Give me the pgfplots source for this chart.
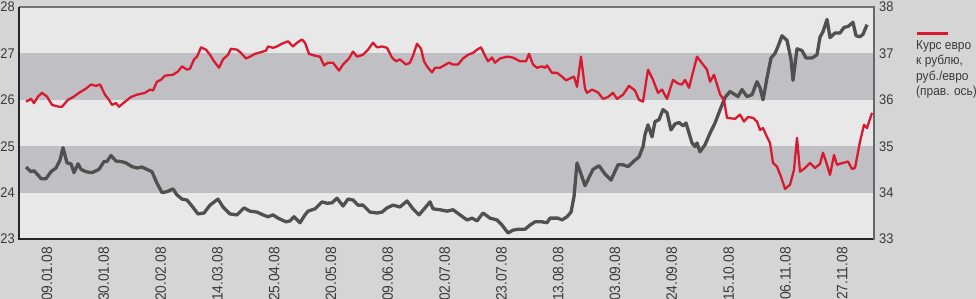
\documentclass[border=0pt]{standalone}
\usepackage{pgfplots}
\pgfplotsset{compat=1.18}
\usepackage{fontspec}
\setmainfont{Liberation Sans}[FakeStretch=0.92]
\definecolor{bgout}{HTML}{D5D5D5}
\definecolor{bandlight}{HTML}{E8E8E8}
\definecolor{banddark}{HTML}{C0C0C4}
\definecolor{usdline}{HTML}{505050}
\definecolor{eurline}{HTML}{D8192F}
\definecolor{txt}{HTML}{3A3A3A}
\pgfplotsset{every tick label/.append style={font=\fontsize{14}{14}\selectfont, text=txt}}
\begin{document}
\begin{tikzpicture}[x=1pt,y=1pt]
\clip (0,0) rectangle (976,299);
\fill[bgout] (0,0) rectangle (976,299);
\begin{axis}[at={(19pt,60pt)}, anchor=south west, scale only axis,
  width=855pt, height=232pt, xmin=19, xmax=874, ymin=23, ymax=28,
  ytick={23,24,25,26,27,28},
  xtick={47,103.8,160.6,217.4,274.2,331,387.8,444.6,501.4,558.2,615,671.8,728.6,785.4,842.2},
  xticklabels={09.01.08,30.01.08,20.02.08,14.03.08,25.04.08,20.05.08,09.06.08,02.07.08,23.07.08,13.08.08,03.09.08,24.09.08,15.10.08,06.11.08,27.11.08},
  xticklabel style={rotate=90, anchor=east, inner sep=0pt, font=\fontsize{15}{15}\selectfont},
  xticklabel shift=8pt,
  yticklabel style={anchor=east, inner sep=0pt},
  yticklabel shift=4pt,
  /pgf/number format/assume math mode=true,
  major tick length=0pt, axis line style={draw=none},
  axis background/.style={fill=bandlight},
  clip=false]
\fill[banddark] (axis cs:19,24) rectangle (axis cs:874,25);
\fill[banddark] (axis cs:19,26) rectangle (axis cs:874,27);
\addplot[usdline, line width=3.3pt, line join=round] coordinates {
(26,24.55)(31,24.45)(34,24.47)(38,24.38)(41,24.3)(46,24.3)(51,24.45)(56,24.53)(60,24.7)(63,24.97)(67,24.64)(71,24.62)(74,24.43)(78,24.62)(81,24.5)(86,24.45)(92,24.43)(99,24.5)(104,24.67)(107,24.67)(111,24.8)(116,24.68)(121,24.67)(126,24.64)(132,24.56)(137,24.53)(142,24.55)(147,24.5)(152,24.45)(157,24.2)(162,24.0)(167,24.02)(173,24.08)(177,23.95)(182,23.86)(187,23.84)(192,23.71)(198,23.54)(204,23.56)(210,23.73)(218,23.86)(223,23.69)(230,23.54)(237,23.52)(244,23.67)(250,23.6)(257,23.58)(263,23.52)(268,23.48)(273,23.52)(278,23.45)(286,23.37)(290,23.39)(294,23.48)(300,23.35)(305,23.52)(308,23.6)(315,23.65)(322,23.8)(327,23.77)(332,23.78)(337,23.88)(343,23.71)(348,23.86)(353,23.84)(358,23.73)(363,23.73)(370,23.58)(377,23.56)(382,23.58)(387,23.67)(393,23.73)(400,23.69)(407,23.82)(413,23.65)(419,23.52)(425,23.67)(430,23.8)(433,23.65)(440,23.63)(447,23.6)(453,23.63)(460,23.52)(467,23.41)(472,23.45)(477,23.39)(483,23.56)(490,23.45)(497,23.41)(502,23.3)(508,23.13)(513,23.19)(518,23.21)(525,23.21)(530,23.3)(535,23.37)(542,23.37)(547,23.35)(550,23.45)(555,23.45)(558,23.45)(562,23.41)(567,23.48)(571,23.58)(574,23.91)(577,24.64)(581,24.4)(585,24.15)(593,24.5)(599,24.58)(605,24.4)(611,24.27)(618,24.6)(623,24.6)(628,24.56)(635,24.7)(639,24.77)(643,24.99)(645,25.25)(648,25.46)(652,25.2)(655,25.53)(659,25.57)(663,25.79)(667,25.72)(671,25.35)(675,25.48)(679,25.51)(683,25.44)(686,25.5)(692,25.07)(695,24.99)(697,25.07)(700,24.88)(705,25.03)(710,25.28)(715,25.5)(720,25.78)(725,26.05)(730,26.18)(735,26.11)(738,26.07)(742,26.22)(747,26.07)(752,26.11)(757,26.39)(760,26.26)(763,26.0)(767,26.47)(771,26.9)(775,27.0)(778,27.15)(782,27.38)(787,27.28)(791,26.87)(793,26.42)(797,27.1)(802,27.06)(806,26.9)(812,26.9)(817,26.97)(820,27.35)(823,27.47)(827,27.73)(830,27.34)(835,27.44)(840,27.44)(844,27.56)(848,27.58)(853,27.67)(856,27.38)(860,27.36)(863,27.41)(867,27.62)
};
\end{axis}
\begin{axis}[at={(19pt,60pt)}, anchor=south west, scale only axis,
  width=855pt, height=232pt, xmin=19, xmax=874, ymin=33, ymax=38,
  ytick={33,34,35,36,37,38},
  axis y line*=right, axis x line=none,
  yticklabel style={anchor=west, inner sep=0pt},
  yticklabel shift=5pt,
  /pgf/number format/assume math mode=true,
  major tick length=0pt, axis line style={draw=none}]
\addplot[eurline, line width=2.3pt, line join=round] coordinates {
(26,35.96)(31,36.02)(34,35.93)(38,36.07)(42,36.15)(47,36.07)(52,35.89)(59,35.85)(62,35.85)(68,36.0)(74,36.07)(79,36.15)(86,36.24)(91,36.33)(96,36.3)(100,36.33)(105,36.11)(109,36.0)(112,35.89)(116,35.93)(119,35.85)(125,35.96)(131,36.06)(137,36.11)(145,36.15)(150,36.22)(153,36.2)(157,36.39)(161,36.43)(165,36.52)(173,36.54)(178,36.61)(182,36.72)(187,36.65)(190,36.67)(194,36.87)(197,36.93)(201,37.13)(206,37.08)(210,36.97)(214,36.83)(219,36.69)(223,36.87)(228,36.97)(231,37.1)(237,37.08)(241,37.01)(246,36.89)(250,36.93)(255,36.99)(260,37.02)(266,37.06)(268,37.15)(273,37.12)(277,37.15)(282,37.21)(288,37.26)(293,37.15)(297,37.23)(302,37.3)(305,37.23)(309,36.99)(315,36.95)(320,36.93)(324,36.74)(328,36.8)(333,36.8)(339,36.63)(343,36.76)(349,36.89)(353,37.04)(357,36.93)(363,36.97)(368,37.08)(373,37.23)(377,37.13)(382,37.15)(387,37.12)(392,36.91)(396,36.83)(400,36.87)(406,36.76)(410,36.8)(413,36.95)(417,37.21)(421,37.1)(424,36.83)(427,36.72)(432,36.59)(435,36.69)(440,36.69)(444,36.74)(449,36.8)(453,36.76)(458,36.76)(463,36.89)(468,36.97)(473,37.01)(477,37.08)(481,37.13)(485,36.95)(488,36.83)(492,36.91)(495,36.8)(500,36.89)(507,36.93)(513,36.91)(520,36.83)(526,36.83)(529,36.99)(533,36.76)(537,36.69)(542,36.72)(545,36.69)(547,36.74)(552,36.58)(557,36.58)(562,36.5)(566,36.42)(571,36.47)(574,36.5)(577,36.28)(581,36.93)(585,36.24)(587,36.15)(592,36.22)(598,36.16)(603,36.02)(608,36.06)(613,36.15)(617,36.02)(623,36.11)(629,36.3)(635,36.2)(639,36.0)(643,35.96)(648,36.65)(653,36.43)(658,36.15)(662,36.22)(667,36.02)(673,36.43)(678,36.35)(682,36.33)(685,36.43)(689,36.26)(697,36.93)(703,36.76)(707,36.65)(710,36.39)(714,36.54)(720,36.12)(724,35.99)(727,35.61)(735,35.59)(740,35.68)(744,35.53)(748,35.63)(753,35.61)(757,35.53)(760,35.35)(763,35.39)(767,35.2)(770,35.07)(773,34.64)(777,34.56)(781,34.34)(785,34.08)(790,34.17)(794,34.49)(797,35.18)(800,34.45)(805,34.53)(810,34.64)(815,34.53)(820,34.62)(823,34.86)(826,34.67)(830,34.38)(834,34.81)(837,34.6)(843,34.64)(848,34.67)(852,34.51)(855,34.53)(860,35.1)(864,35.46)(867,35.39)(872,35.72)
};
\end{axis}
\draw[black!55, line width=1.6pt] (19,292) -- (874,292);
\draw[black!85, line width=1.2pt] (19,292) -- (19,60) -- (874,60);
\draw[black!60, line width=2pt] (874,59.4) -- (874,292.8);
\draw[eurline, line width=3pt] (917,265) -- (948,265);
\node[anchor=north west, inner sep=0pt, align=left, text=txt,
  font=\fontsize{13}{15.5}\selectfont] at (916,259)
  {Курс евро\\к рублю,\\руб./евро\\(прав. ось)};
\end{tikzpicture}
\end{document}
